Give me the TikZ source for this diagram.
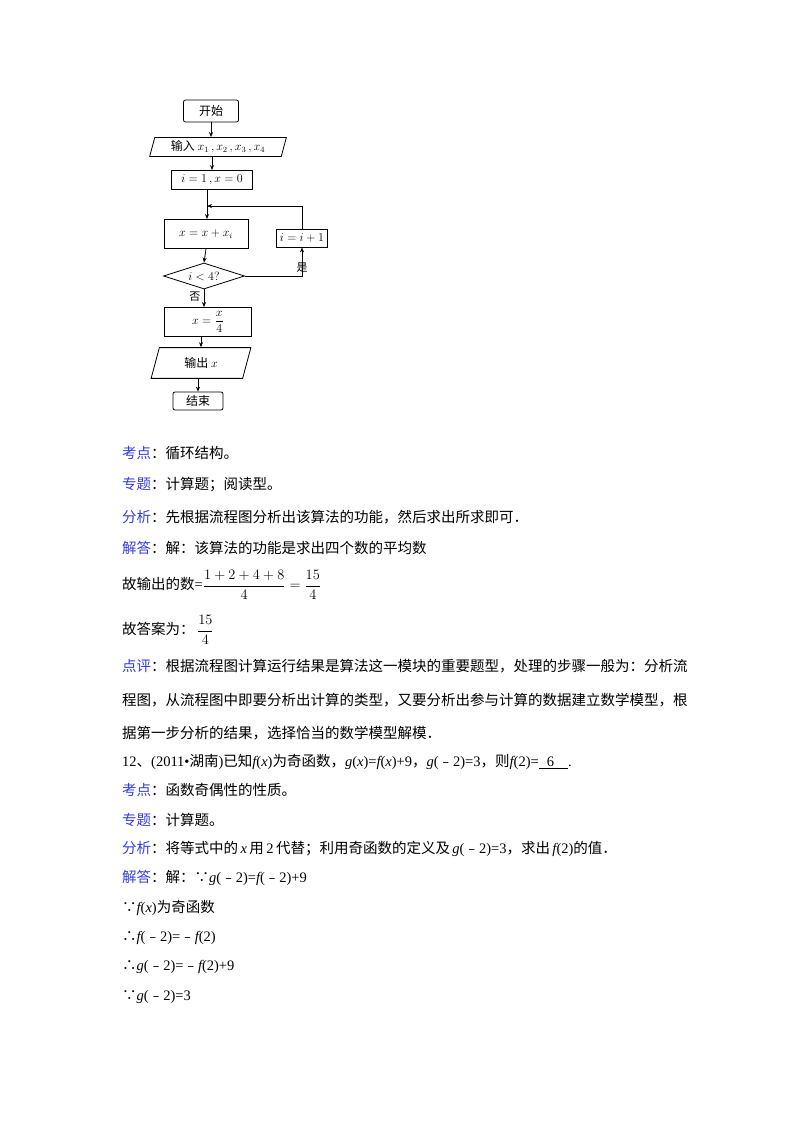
\documentclass[tikz,border=0pt]{standalone}
\usepackage{fontspec}
\usepackage{amsmath}
\setmainfont{Noto Sans CJK SC}
\newfontfamily\lat{Liberation Serif}
\usetikzlibrary{shapes.geometric,arrows.meta}
\newcommand{\LL}[1]{{\lat #1}}
\newcommand{\IT}[1]{{\lat\itshape #1}}
\definecolor{kblue}{RGB}{50,60,230}
\begin{document}
\begin{tikzpicture}[x=1pt,y=-1pt,
  box/.style={draw,thick,minimum height=19pt,inner sep=1pt,font=\fontsize{12}{13}\selectfont},
  io/.style={draw,thick,trapezium,trapezium left angle=75,trapezium right angle=105,inner sep=1pt,font=\fontsize{12}{13}\selectfont},
  dia/.style={draw,thick,diamond,aspect=3.1,inner sep=0pt,font=\fontsize{12}{13}\selectfont},
  arr/.style={thick,-{Stealth[length=5pt,width=4pt]}},
  txt/.style={anchor=west,inner sep=0pt,font=\fontsize{14.5}{16}\selectfont},
  lab/.style={text=kblue}]
\useasboundingbox (0,0) rectangle (800,1132);
% flowchart
\node[box,rounded corners=2pt,minimum width=55pt,minimum height=22pt] (start) at (211,111) {开始};
\node[io,minimum width=125pt,minimum height=19pt] (in) at (218,147) {输入 $x_1\,,x_2\,,x_3\,,x_4$};
\node[box,minimum width=81pt] (init) at (212,180) {$i=1\,,x=0$};
\coordinate (m) at (207,206);
\node[box,minimum width=84pt,minimum height=29pt] (acc) at (206,234) {$x=x+x_i$};
\node[box,minimum width=51pt,minimum height=18pt] (inc) at (302,238) {$i=i+1$};
\node[dia,minimum width=81pt,minimum height=26pt] (cond) at (204,276) {$i<4?$};
\node[box,minimum width=87pt,minimum height=29pt] (div) at (208,322) {$x=\dfrac{x}{4}$};
\node[io,minimum width=100pt,minimum height=27pt] (out) at (201,363) {输出 $x$};
\node[box,rounded corners=2pt,minimum width=50pt,minimum height=18pt] (end) at (198,401) {结束};
\draw[arr] (start.south) -- (start.south |- in.north);
\draw[arr] (in.south -| init.north) -- (init.north);
\draw[thick] (init.south -| m) -- (m);
\draw[arr] (m) -- (m |- acc.north);
\draw[arr] (acc.south) -- (cond.north);
\draw[arr] (cond.east) -| node[pos=0.5,above,font=\fontsize{11}{12}\selectfont]{是} (inc.south);
\draw[arr] (inc.north) |- (m);
\draw[arr] (cond.south) -- node[left,pos=0.4,font=\fontsize{11}{12}\selectfont]{否} (cond.south |- div.north);
\draw[arr] (div.south -| out.north) -- (out.north);
\draw[arr] (out.south -| end.north) -- (end.north);
% text
\node[txt] (t1) at (122,453) {\textcolor{kblue}{考点}：循环结构。};
\node[txt] (t2) at (122,485) {\textcolor{kblue}{专题}：计算题；阅读型。};
\node[txt] (t3) at (122,517) {\textcolor{kblue}{分析}：先根据流程图分析出该算法的功能，然后求出所求即可．};
\node[txt] (t4) at (122,548) {\textcolor{kblue}{解答}：解：该算法的功能是求出四个数的平均数};
\node[txt] (t5) at (122,585) {故输出的数\LL{=}$\dfrac{1+2+4+8}{4}=\dfrac{15}{4}$};
\node[txt] (t6) at (122,630) {故答案为：\,$\dfrac{15}{4}$};
\node[txt] (t7) at (122,666) {\textcolor{kblue}{点评}：根据流程图计算运行结果是算法这一模块的重要题型，处理的步骤一般为：分析流};
\node[txt] (t8) at (122,700) {程图，从流程图中即要分析出计算的类型，又要分析出参与计算的数据建立数学模型，根};
\node[txt] (t9) at (122,733) {据第一步分析的结果，选择恰当的数学模型解模．};
\node[txt] (t10) at (122,762) {\LL{12}、\LL{(2011•}湖南\LL{)}已知\IT{f}\LL{(}\IT{x}\LL{)}为奇函数，\IT{g}\LL{(}\IT{x}\LL{)=}\IT{f}\LL{(}\IT{x}\LL{)+9}，\IT{g}\LL{(}﹣\LL{2)=3}，则\IT{f}\LL{(2)=}\LL{\underline{\hspace{8pt}6\hspace{14pt}}}\LL{.}};
\node[txt] (t11) at (122,790) {\textcolor{kblue}{考点}：函数奇偶性的性质。};
\node[txt] (t12) at (122,820) {\textcolor{kblue}{专题}：计算题。};
\node[txt] (t13) at (122,849) {\textcolor{kblue}{分析}：将等式中的\,\IT{x}\,用\,\LL{2}\,代替；利用奇函数的定义及\,\IT{g}\LL{(}﹣\LL{2)=3}，求出\,\IT{f}\LL{(2)}的值．};
\node[txt] (t14) at (122,878) {\textcolor{kblue}{解答}：解：∵\IT{g}\LL{(}﹣\LL{2)=}\IT{f}\LL{(}﹣\LL{2)+9}};
\node[txt] (t15) at (122,908) {∵\IT{f}\LL{(}\IT{x}\LL{)}为奇函数};
\node[txt] (t16) at (122,938) {∴\IT{f}\LL{(}﹣\LL{2)=}﹣\IT{f}\LL{(2)}};
\node[txt] (t17) at (122,967) {∴\IT{g}\LL{(}﹣\LL{2)=}﹣\IT{f}\LL{(2)+9}};
\node[txt] (t18) at (122,997) {∵\IT{g}\LL{(}﹣\LL{2)=3}};
\end{tikzpicture}
\end{document}
